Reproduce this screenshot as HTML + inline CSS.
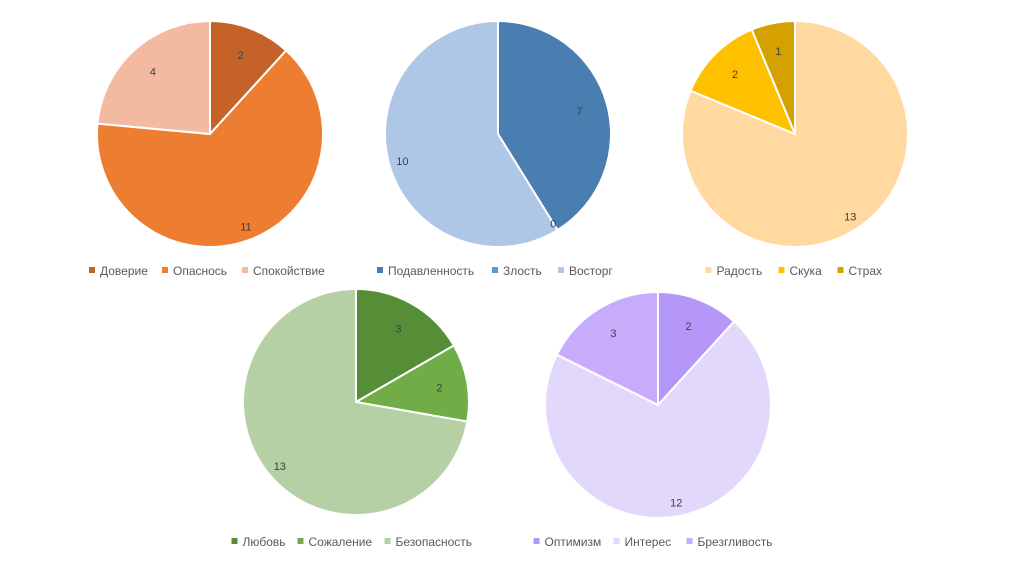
<!DOCTYPE html>
<html><head><meta charset="utf-8"><style>
body{margin:0;background:#fff;width:1024px;height:574px;overflow:hidden;font-family:"Liberation Sans",sans-serif}
svg text{font-family:"Liberation Sans",sans-serif;font-size:11px;fill:#404040}
svg text.lg{font-size:12px;fill:#595959}
</style></head><body>
<svg id="c" width="1024" height="574"></svg>
<script>
const chart1Labels=["Доверие","Опаснось","Спокойствие"];
const chart1Values=[2,11,4];
const chart2Labels=["Подавленность","Злость","Восторг"];
const chart2Values=[7,0,10];
const chart3Labels=["Радость","Скука","Страх"];
const chart3Values=[13,2,1];
const chart4Labels=["Любовь","Сожаление","Безопасность"];
const chart4Values=[3,2,13];
const chart5Labels=["Оптимизм","Интерес","Брезгливость"];
const chart5Values=[2,12,3];
const ns="http://www.w3.org/2000/svg";
const svg=document.getElementById('c');
const pies=[
 {labels:chart1Labels,values:chart1Values,cx:210,cy:134,ly:275,colors:["#C5622A","#ED7D31","#F4B9A1"]},
 {labels:chart2Labels,values:chart2Values,cx:498,cy:134,ly:275,colors:["#4A7EB0","#5B9BD5","#AEC7E6"]},
 {labels:chart3Labels,values:chart3Values,cx:795,cy:134,ly:275,colors:["#FFD9A0","#FFC000","#D4A100"]},
 {labels:chart4Labels,values:chart4Values,cx:356,cy:402,ly:546,colors:["#568D37","#70AD47","#B5D0A4"]},
 {labels:chart5Labels,values:chart5Values,cx:658,cy:405,ly:546,colors:["#B597F7","#E2D8FC","#C6ACFB"]}
];
const R=113;
function el(t,a,p){const e=document.createElementNS(ns,t);for(const k in a)e.setAttribute(k,a[k]);(p||svg).appendChild(e);return e;}
pies.forEach((p,pi)=>{
 const g=el('g',{});
 
 
 const tot=p.values.reduce((a,b)=>a+b,0);
 let a0=0;
 const labs=[];
 p.values.forEach((v,i)=>{
  const a1=a0+v/tot*2*Math.PI;
  const x0=p.cx+R*Math.sin(a0),y0=p.cy-R*Math.cos(a0);
  const x1=p.cx+R*Math.sin(a1),y1=p.cy-R*Math.cos(a1);
  if(v>0){
   const s=el('path',{d:`M${p.cx},${p.cy}L${x0},${y0}A${R},${R} 0 ${a1-a0>Math.PI?1:0} 1 ${x1},${y1}Z`,fill:p.colors[i],stroke:'#fff','stroke-width':2},g);
   
   
  }
  const am=(a0+a1)/2, f=v===0?0.93:(v/tot>0.5?0.88:0.75);
  labs.push([p.cx+R*f*Math.sin(am),p.cy-R*f*Math.cos(am)+4,v]);
  a0=a1;
 });
 labs.forEach(l=>{
  const t=el('text',{x:l[0],y:l[1],'text-anchor':'middle'},g);
  t.textContent=l[2];
  
  
 });
 const widths=p.labels.map(l=>l.length*7+24);
 const totalW=widths.reduce((a,b)=>a+b,0)-12;
 let x=p.cx-totalW/2;
 p.labels.forEach((l,i)=>{
  const lg=el('g',{},g);
  
  
  el('rect',{x:x,y:p.ly-8,width:6,height:6,fill:p.colors[i]},lg);
  const t=el('text',{x:x+11,y:p.ly,class:'lg'},lg);t.textContent=l;
  x+=widths[i];
 });
});
</script>
</body></html>
